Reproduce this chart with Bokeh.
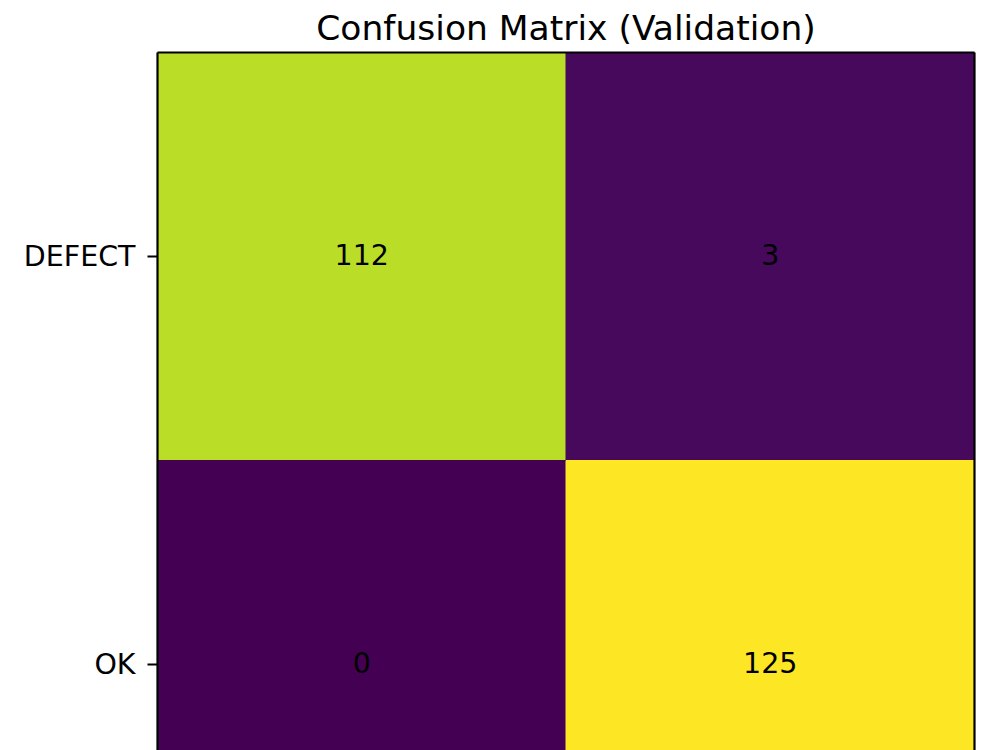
from bokeh.plotting import figure
from bokeh.models import Range1d, LinearAxis, FixedTicker, LinearColorMapper, ColumnDataSource
from bokeh.palettes import Viridis256
from bokeh.transform import transform
from bokeh.core.properties import value
from bokeh.embed import file_html
from bokeh.resources import INLINE

# ---- data ----
classes = ["DEFECT", "OK"]          # true labels (rows, top to bottom) / predicted (cols)
row_defect = [112, 3]
row_ok = [0, 125]
counts = [row_defect, row_ok]
chart_title = "Confusion Matrix (Validation)"

n = len(classes)
xs, ys, vals, txt = [], [], [], []
for i, row in enumerate(counts):
    for j, v in enumerate(row):
        xs.append(j + 0.5)
        ys.append(n - i - 0.5)
        vals.append(v)
        txt.append(str(v))
src = ColumnDataSource(dict(x=xs, y=ys, v=vals, t=txt))

all_vals = [v for r in counts for v in r]
mapper = LinearColorMapper(palette=Viridis256, low=min(all_vals), high=max(all_vals))

FONT = "DejaVu Sans"
cell_px = 408.0
frame_top = 52
frame_h = 750 - frame_top

p = figure(width=1000, height=750, output_backend="svg", toolbar_location=None,
           x_range=Range1d(0, n), y_range=Range1d(n - frame_h / cell_px, n),
           x_axis_location=None, min_border_left=157, min_border_right=26,
           min_border_top=frame_top, min_border_bottom=0)
p.outline_line_color = None
p.grid.visible = False
p.background_fill_color = "white"

p.rect(x="x", y="y", width=1, height=1, source=src,
       fill_color=transform("v", mapper), line_color=transform("v", mapper), line_width=1)
p.text(x="x", y="y", text="t", source=src, text_align="center", text_baseline="middle",
       text_font=value(FONT), text_font_size="28.5px", text_color="black", y_offset=-2)

# left axis
ya = p.yaxis[0]
ya.ticker = FixedTicker(ticks=[n - i - 0.5 for i in range(n)])
ya.major_label_overrides = {n - i - 0.5: c for i, c in enumerate(classes)}
ya.major_label_text_font = FONT
ya.major_label_text_font_size = "28.5px"
ya.major_label_text_color = "black"
ya.major_tick_out = 10
ya.major_tick_in = 0
ya.minor_tick_line_color = None
ya.major_tick_line_width = 2.2
ya.axis_line_width = 2.2
ya.axis_line_color = "black"
ya.major_label_standoff = 12

# right spine
ra = LinearAxis(ticker=FixedTicker(ticks=[]), major_label_text_font_size="0px",
                major_tick_out=0, minor_tick_out=0, axis_line_width=2.2, axis_line_color="black")
p.add_layout(ra, "right")
# top spine
ta = LinearAxis(ticker=FixedTicker(ticks=[]), major_label_text_font_size="0px",
                major_tick_out=0, minor_tick_out=0, axis_line_width=2.2, axis_line_color="black")
p.add_layout(ta, "above")

p.title.text = chart_title
p.title.align = "center"
p.title.text_font = FONT
p.title.text_font_size = "34.5px"
p.title.text_font_style = "normal"
p.title.text_color = "black"
p.title.offset = 0

open("out.html", "w").write(file_html(p, INLINE))
